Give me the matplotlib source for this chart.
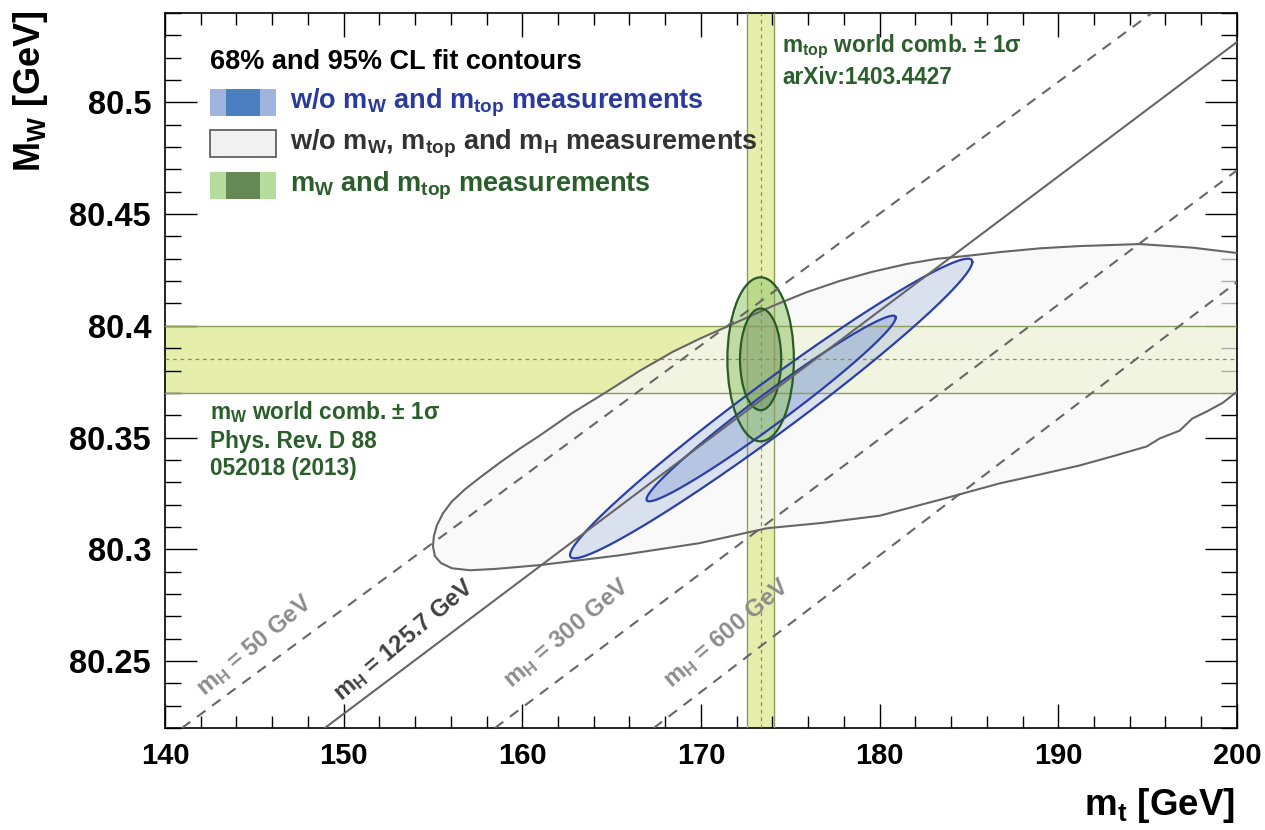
import numpy as np
import matplotlib
matplotlib.use("Agg")
import matplotlib.pyplot as plt
from matplotlib.patches import Rectangle, Polygon, Ellipse
from matplotlib.ticker import MultipleLocator

# world averages (bands)
mt_world, mt_err = 173.34, 0.76
mw_world, mw_err = 80.385, 0.015

# SM M_W(m_t) lines for fixed m_H, end points
mh_values = ["50", "125.7", "300", "600"]
mh_line_mt = [[140.95, 195.23], [148.95, 200.0], [158.47, 200.0], [167.36, 200.0]]
mh_line_mw = [[80.22, 80.54], [80.22, 80.527], [80.22, 80.4696], [80.22, 80.4196]]

# fit w/o mW, mtop and mH : outline of the contour (upper edge, then lower edge back)
grey_top_mt = [155.0, 155.05, 155.22, 155.56, 156.06, 156.79, 157.63, 158.75, 159.87, 160.98,
               162.8, 164.73, 166.6, 168.43, 170.0, 171.45, 172.8, 174.02, 175.9, 177.77,
               179.6, 181.52, 183.2, 184.88, 186.73, 189.0, 191.2, 194.56, 197.5, 200.0, 201.0]
grey_top_mw = [80.3013, 80.3058, 80.3107, 80.3161, 80.3214, 80.3268, 80.3321, 80.3388, 80.3451, 80.3509,
               80.361, 80.3705, 80.380, 80.3884, 80.3945, 80.3996, 80.4045, 80.4089, 80.4150, 80.4201,
               80.4242, 80.4277, 80.4300, 80.4313, 80.433, 80.4347, 80.4357, 80.4366, 80.435, 80.4326, 80.432]
grey_bot_mt = [201.0, 200.0, 199.2, 198.3, 197.5, 196.8, 195.68, 194.95, 193.0, 191.2,
               189.0, 186.73, 183.4, 180.0, 176.8, 173.69, 169.9, 165.46, 160.98, 158.5,
               157.07, 156.06, 155.45, 155.11]
grey_bot_mw = [80.365, 80.3705, 80.3655, 80.3616, 80.3585, 80.3531, 80.3496, 80.346, 80.3415, 80.3375,
               80.3335, 80.3295, 80.3222, 80.315, 80.3118, 80.3094, 80.3027, 80.2973, 80.2929, 80.2912,
               80.2906, 80.2915, 80.2938, 80.2969]

# fit w/o mW and mtop : central value, errors, correlation
fit_mt, fit_mt_err = 173.93, 4.6
fit_mw, fit_mw_err = 80.363, 0.0274
fit_rho = 0.978

chi2_68, chi2_95 = 2.30, 5.99

plt.rcParams['font.family'] = 'Liberation Sans'
plt.rcParams['font.weight'] = 'bold'
plt.rcParams['mathtext.fontset'] = 'custom'
plt.rcParams['mathtext.rm'] = 'Liberation Sans:bold'
plt.rcParams['mathtext.it'] = 'Liberation Sans:bold'
plt.rcParams['mathtext.bf'] = 'Liberation Sans:bold'
plt.rcParams['mathtext.default'] = 'rm'

fig = plt.figure(figsize=(12.65, 8.3), dpi=100)
ax = fig.add_axes([0.1304, 0.1229, 0.8474, 0.8614])
ax.set_xlim(140, 200)
ax.set_ylim(80.22, 80.54)

band_col = '#e6eeac'
band_edge = '#8c9e5c'

# world comb. bands
ax.axhspan(mw_world - mw_err, mw_world + mw_err, color=band_col, zorder=1, lw=0)
ax.axvspan(mt_world - mt_err, mt_world + mt_err, color=band_col, zorder=1, lw=0)
for v in (mw_world - mw_err, mw_world + mw_err):
    ax.axhline(v, color=band_edge, lw=1.0, zorder=6)
for v in (mt_world - mt_err, mt_world + mt_err):
    ax.axvline(v, color=band_edge, lw=1.0, zorder=6)
ax.axhline(mw_world, color='#8a8a70', lw=0.9, ls=(0, (3, 3)), zorder=6)
ax.axvline(mt_world, color='#8a8a70', lw=0.9, ls=(0, (3, 3)), zorder=6)

# grey contour
grey_xy = np.column_stack([grey_top_mt + grey_bot_mt, grey_top_mw + grey_bot_mw])
ax.add_patch(Polygon(grey_xy, closed=True, facecolor='#f7f7f7', alpha=0.7,
                     edgecolor='none', zorder=2))
ax.add_patch(Polygon(grey_xy, closed=True, facecolor='none', edgecolor='#666666',
                     lw=1.5, joinstyle='round', zorder=7))

# blue contours (fit w/o mW and mtop)
t = np.linspace(0, 2 * np.pi, 400)
for chi2, fc, al in ((chi2_95, '#9fb3dc', 0.35), (chi2_68, '#4a78c0', 0.25)):
    k = np.sqrt(chi2)
    bx = fit_mt + k * fit_mt_err * np.cos(t)
    by = fit_mw + k * fit_mw_err * (fit_rho * np.cos(t) + np.sqrt(1 - fit_rho ** 2) * np.sin(t))
    ax.fill(bx, by, color=fc, alpha=al, lw=0, zorder=3)
    ax.plot(bx, by, color='#2c3fa8', lw=1.6, zorder=8)

# green contours (measurements)
for chi2, fc, al in ((chi2_95, '#96c86e', 0.55), (chi2_68, '#5a7a48', 0.35)):
    k = np.sqrt(chi2)
    ax.add_patch(Ellipse((mt_world, mw_world), 2 * k * mt_err, 2 * k * mw_err,
                         facecolor=fc, alpha=al, edgecolor='none', zorder=4))
    ax.add_patch(Ellipse((mt_world, mw_world), 2 * k * mt_err, 2 * k * mw_err,
                         facecolor='none', edgecolor='#2a5a2a', lw=1.6, zorder=9))

# m_H lines
mh_text_pos = [(145.0, 80.257), (153.4, 80.2594), (162.5, 80.2625), (171.45, 80.2625)]
for i, mh in enumerate(mh_values):
    solid = mh == "125.7"
    ax.plot(mh_line_mt[i], mh_line_mw[i], color='#666666', lw=1.5,
            ls='-' if solid else (0, (5, 4)), zorder=10)
    ax.text(mh_text_pos[i][0], mh_text_pos[i][1], r"m$_{\rm H}$ = " + mh + " GeV",
            color='#404040' if solid else '#8c8c8c', fontsize=17, rotation=40,
            ha='center', va='center', zorder=11)

# legend (drawn by hand, ROOT style)
tr = ax.transAxes
ax.text(0.042, 0.9315, "68% and 95% CL fit contours", transform=tr, fontsize=19.5,
        va='center', ha='left', color='black', zorder=20)
boxes = [(0.856, '#a0b4dd', '#4a80c0', '#2b3a9e', r"w/o m$_{\rm W}$ and m$_{\rm top}$ measurements"),
         (0.7986, '#f2f2f2', None, '#333333', r"w/o m$_{\rm W}$, m$_{\rm top}$ and m$_{\rm H}$ measurements"),
         (0.7399, '#b5dd9d', '#668855', '#2a5e2a', r"m$_{\rm W}$ and m$_{\rm top}$ measurements")]
for y0, c1, c2, tc, label in boxes:
    if c2 is None:
        ax.add_patch(Rectangle((0.042, y0), 0.0616, 0.038, transform=tr, facecolor=c1,
                               edgecolor='#555555', lw=1.2, zorder=20))
    else:
        ax.add_patch(Rectangle((0.042, y0), 0.0616, 0.038, transform=tr, facecolor=c1,
                               edgecolor='none', zorder=20))
        ax.add_patch(Rectangle((0.0574, y0), 0.0316, 0.038, transform=tr, facecolor=c2,
                               edgecolor='none', zorder=21))
    ax.text(0.1166, y0 + 0.019, label, transform=tr, fontsize=19.5, color=tc,
            va='center', ha='left', zorder=20)

green_txt = '#2a5e2a'
ax.text(0.5756, 0.9524, r"m$_{\rm top}$ world comb. ± 1σ", transform=tr, fontsize=16.3,
        color=green_txt, va='center', ha='left', zorder=20)
ax.text(0.5756, 0.9105, "arXiv:1403.4427", transform=tr, fontsize=16.3,
        color=green_txt, va='center', ha='left', zorder=20)
ax.text(0.042, 0.442, r"m$_{\rm W}$ world comb. ± 1σ", transform=tr, fontsize=16.3,
        color=green_txt, va='center', ha='left', zorder=20)
ax.text(0.042, 0.4014, "Phys. Rev. D 88", transform=tr, fontsize=16.3,
        color=green_txt, va='center', ha='left', zorder=20)
ax.text(0.042, 0.3636, "052018 (2013)", transform=tr, fontsize=16.3,
        color=green_txt, va='center', ha='left', zorder=20)

# axes, ticks
ax.xaxis.set_major_locator(MultipleLocator(10))
ax.xaxis.set_minor_locator(MultipleLocator(2))
ax.yaxis.set_major_locator(MultipleLocator(0.05))
ax.yaxis.set_minor_locator(MultipleLocator(0.01))
ax.tick_params(axis='both', which='both', direction='in', top=True, right=True, width=1.0)
ax.tick_params(axis='x', which='major', length=17, labelsize=21, pad=10)
ax.tick_params(axis='x', which='minor', length=8.5)
ax.tick_params(axis='y', which='major', length=23, labelsize=23.5, pad=10)
ax.tick_params(axis='y', which='minor', length=11.5)
ax.set_yticks([80.25, 80.3, 80.35, 80.4, 80.45, 80.5])
ax.set_yticklabels(["80.25", "80.3", "80.35", "80.4", "80.45", "80.5"])
for sp in ax.spines.values():
    sp.set_linewidth(1.2)

fig.text(0.024, 0.988, r"M$_{\rm W}$ [GeV]", rotation=90, ha='center', va='top', fontsize=26)
fig.text(0.976, 0.030, r"m$_{\rm t}$ [GeV]", ha='right', va='center', fontsize=26.5)

fig.savefig("out.png", dpi=100)
